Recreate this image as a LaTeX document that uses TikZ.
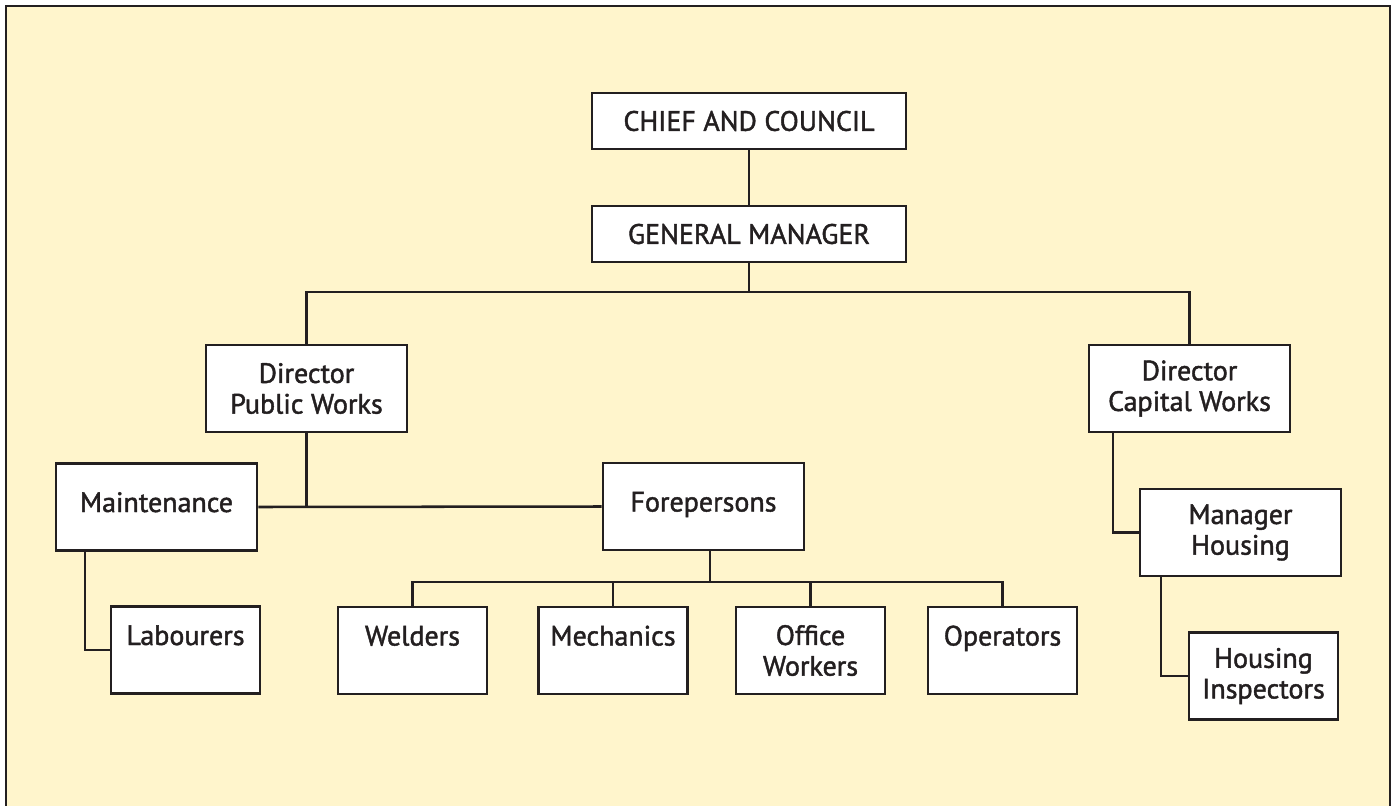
\documentclass[tikz,border=0pt]{standalone}
\usepackage{fontspec}
\setmainfont{PT Sans}
\newfontfamily\boxfont{PT Sans}[FakeBold=1.5]
\definecolor{bgyellow}{RGB}{255,245,204}
\definecolor{ink}{RGB}{35,31,32}
\begin{document}
\begin{tikzpicture}[x=0.75pt,y=-0.75pt,
  box/.style={draw=ink,line width=2.1pt,fill=white,inner sep=0pt,text=ink,
    font=\boxfont\fontsize{21}{23}\selectfont,align=center},
  topbox/.style={box,minimum width=235.5pt,minimum height=42pt},
  bigbox/.style={box,minimum width=150.75pt,minimum height=65.25pt},
  smallbox/.style={box,minimum width=111.75pt,minimum height=65.25pt},
  midline/.style={text height=15pt,text depth=7.5pt},
  lowline/.style={text height=15pt,text depth=22.5pt},
  link/.style={draw=ink,line width=1.9pt}]
\useasboundingbox (0,0) rectangle (1395,806);
\fill[bgyellow] (6,6) rectangle (1390,806);
\draw[ink,line width=1.5pt] (6,806) -- (6,6) -- (1390,6) -- (1390,806);

\node[topbox] (chief) at (749,121) {CHIEF AND COUNCIL};
\node[topbox] (gm) at (749,234) {GENERAL MANAGER};
\node[bigbox] (dpw) at (306.5,388.5) {Director\\Public Works};
\node[bigbox] (dcw) at (1189.5,388.5) {Director\\Capital Works};
\node[bigbox,midline] (maint) at (156.5,507) {Maintenance};
\node[bigbox,midline] (fore) at (703.5,506.5) {Forepersons};
\node[smallbox,lowline] (lab) at (185.5,650) {Labourers};
\node[smallbox,lowline] (weld) at (412.5,650.5) {Welders};
\node[smallbox,lowline] (mech) at (613,650.5) {Mechanics};
\node[smallbox] (office) at (810.5,650.5) {Office\\Workers};
\node[smallbox,lowline] (oper) at (1002.5,650.5) {Operators};
\node[bigbox] (mh) at (1240.5,532.5) {Manager\\Housing};
\node[smallbox] (hi) at (1263.5,676) {Housing\\Inspectors};

\coordinate (topbus) at (749,292);
\coordinate (lowbus) at (710,582);
\coordinate (mx) at (85,0);
\coordinate (dx) at (1113,0);
\coordinate (hx) at (1161,0);

\draw[link] (chief.south) -- (gm.north);
\draw[link] (gm.south) -- (topbus);
\draw[link] (dpw.north) -- (dpw.north |- topbus) -- (dcw.north |- topbus) -- (dcw.north);
\draw[link] (dpw.south) -- (dpw.south |- maint.east);
\draw[link] (maint.east) -- (fore.west);
\draw[link] (maint.south -| mx) |- (lab.west);
\draw[link] (fore.south -| lowbus) -- (lowbus);
\draw[link] (weld.north) -- (weld.north |- lowbus) -- (oper.north |- lowbus) -- (oper.north);
\draw[link] (mech.north) -- (mech.north |- lowbus);
\draw[link] (office.north) -- (office.north |- lowbus);
\draw[link] (dcw.south -| dx) |- (mh.west);
\draw[link] (mh.south -| hx) |- (hi.west);
\end{tikzpicture}
\end{document}
